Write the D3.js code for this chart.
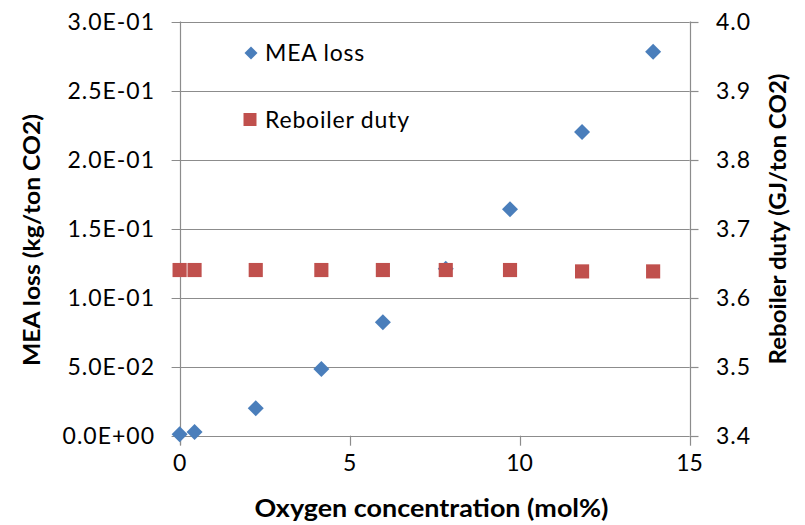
<!DOCTYPE html>
<html>
<head>
<meta charset="utf-8">
<script src="https://cdn.jsdelivr.net/npm/d3@7"></script>
<style>
  html, body { margin: 0; padding: 0; background: #fff; }
  svg { display: block; }
  text { font-family: Lato, "Open Sans", "Liberation Sans", sans-serif; fill: #000; }
</style>
</head>
<body>
<svg id="chart" width="805" height="525"></svg>
<script>
// ---- data ----
const oxygen = [0, 0.44, 2.24, 4.17, 5.98, 7.83, 9.72, 11.84, 13.93];
const meaLoss = [0.001, 0.0027, 0.0199, 0.0483, 0.0822, 0.121, 0.164, 0.2199, 0.278];
const reboilerDuty = [3.640, 3.640, 3.640, 3.640, 3.640, 3.640, 3.640, 3.638, 3.638];
const xTicks = [0, 5, 10, 15];
const leftTicks = [0, 0.05, 0.10, 0.15, 0.20, 0.25, 0.30];
const leftTickLabels = ["0.0E+00", "5.0E-02", "1.0E-01", "1.5E-01", "2.0E-01", "2.5E-01", "3.0E-01"];
const rightTicks = [3.4, 3.5, 3.6, 3.7, 3.8, 3.9, 4.0];
const seriesNames = ["MEA loss", "Reboiler duty"];
const xTitle = "Oxygen concentration (mol%)";
const leftTitle = "MEA loss (kg/ton CO2)";
const rightTitle = "Reboiler duty (GJ/ton CO2)";

// ---- layout ----
const L = 179.6, R = 689.5, T = 21.5, B = 435.7;
const blue = "#4a7ebb", red = "#c0504d", gridC = "#8c8c8c";

const svg = d3.select("#chart");
const x = d3.scaleLinear().domain([0, 15]).range([L, R]);
const yL = d3.scaleLinear().domain([0, 0.3]).range([B, T]);
const yR = d3.scaleLinear().domain([3.4, 4.0]).range([B, T]);

// gridlines (with outside left ticks)
svg.append("g").selectAll("line").data(leftTicks).join("line")
  .attr("x1", L - 8).attr("x2", R)
  .attr("y1", d => Math.round(yL(d)) + 0.5).attr("y2", d => Math.round(yL(d)) + 0.5)
  .attr("stroke", gridC).attr("stroke-width", 1.2);

// left axis line
svg.append("line").attr("x1", Math.round(L) + 0.5).attr("x2", Math.round(L) + 0.5)
  .attr("y1", T).attr("y2", B + 9).attr("stroke", gridC).attr("stroke-width", 1.2);
// right axis line
svg.append("line").attr("x1", Math.round(R) + 0.5).attr("x2", Math.round(R) + 0.5)
  .attr("y1", T).attr("y2", B).attr("stroke", gridC).attr("stroke-width", 1.2);
// right ticks
svg.append("g").selectAll("line").data(rightTicks).join("line")
  .attr("x1", R).attr("x2", R + 9)
  .attr("y1", d => Math.round(yR(d)) + 0.5).attr("y2", d => Math.round(yR(d)) + 0.5)
  .attr("stroke", gridC).attr("stroke-width", 1.2);
// bottom ticks
svg.append("g").selectAll("line").data(xTicks).join("line")
  .attr("x1", d => Math.round(x(d)) + 0.5).attr("x2", d => Math.round(x(d)) + 0.5)
  .attr("y1", B).attr("y2", B + 10)
  .attr("stroke", gridC).attr("stroke-width", 1.2);

// tick labels
svg.append("g").selectAll("text").data(leftTicks).join("text")
  .attr("x", 155).attr("y", d => yL(d)).attr("dy", "0.36em")
  .attr("text-anchor", "end").attr("font-size", 23).attr("letter-spacing", 1)
  .text((d, i) => leftTickLabels[i]);
svg.append("g").selectAll("text").data(rightTicks).join("text")
  .attr("x", 716).attr("y", d => yR(d)).attr("dy", "0.36em")
  .attr("text-anchor", "start").attr("font-size", 23).attr("letter-spacing", 1)
  .text(d => d.toFixed(1));
svg.append("g").selectAll("text").data(xTicks).join("text")
  .attr("x", d => x(d)).attr("y", 471)
  .attr("text-anchor", "middle").attr("font-size", 23)
  .text(d => d);

// axis titles
svg.append("text").attr("x", 431.5).attr("y", 517).attr("text-anchor", "middle")
  .attr("font-size", 24).attr("font-weight", "bold")
  .attr("textLength", 354).attr("lengthAdjust", "spacingAndGlyphs").text(xTitle);
svg.append("text").attr("transform", "translate(40,240) rotate(-90)").attr("text-anchor", "middle")
  .attr("font-size", 22).attr("font-weight", "bold")
  .attr("textLength", 252).attr("lengthAdjust", "spacingAndGlyphs").text(leftTitle);
svg.append("text").attr("transform", "translate(786,219) rotate(-90)").attr("text-anchor", "middle")
  .attr("font-size", 22).attr("font-weight", "bold")
  .attr("textLength", 291).attr("lengthAdjust", "spacingAndGlyphs").text(rightTitle);

// markers
const diamond = d3.symbol().type(d3.symbolSquare).size(128);
const square = d3.symbol().type(d3.symbolSquare).size(200);
const pts = oxygen.map((o, i) => ({ o, m: meaLoss[i], r: reboilerDuty[i] }));

svg.append("g").selectAll("path").data(pts).join("path")
  .attr("d", diamond)
  .attr("transform", d => `translate(${x(d.o)},${yL(d.m)}) rotate(45)`)
  .attr("fill", blue);
svg.append("g").selectAll("path").data(pts).join("path")
  .attr("d", square)
  .attr("transform", d => `translate(${x(d.o)},${yR(d.r)})`)
  .attr("fill", red);

// legend
const leg = svg.append("g");
leg.append("path").attr("d", d3.symbol().type(d3.symbolSquare).size(85)())
  .attr("transform", "translate(251,53) rotate(45)").attr("fill", blue);
leg.append("text").attr("x", 265).attr("y", 61).attr("font-size", 23).attr("letter-spacing", 0.8).text(seriesNames[0]);
leg.append("path").attr("d", d3.symbol().type(d3.symbolSquare).size(169)())
  .attr("transform", "translate(250,119.5)").attr("fill", red);
leg.append("text").attr("x", 265).attr("y", 127.5).attr("font-size", 23).attr("letter-spacing", 0.8).text(seriesNames[1]);
</script>
</body>
</html>
